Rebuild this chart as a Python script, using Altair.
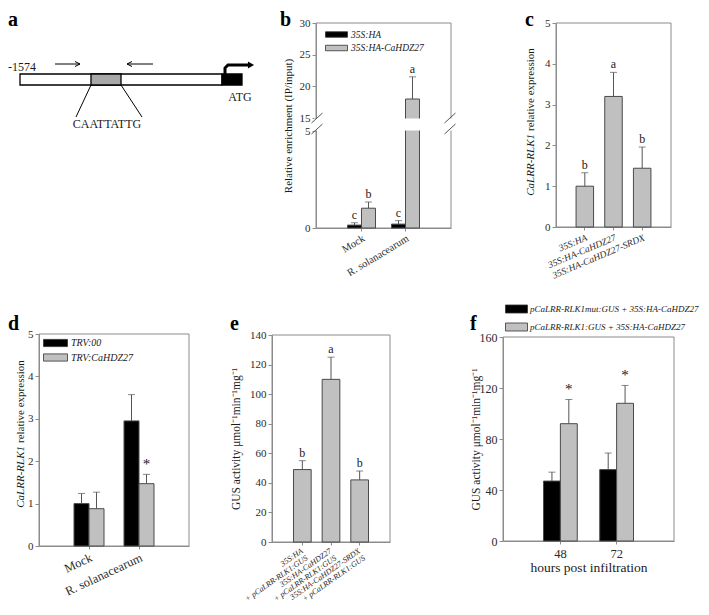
import json
import altair as alt
import pandas as pd

FONT = "Liberation Serif"
INK = "#1a1a1a"
LAB = "#2b2b2b"
AXC = "#8c8c8c"
GREY = "#c0c0c0"
EDGE = "#4a4a4a"
ERR = "#555555"
NB = "\u00a0"

W, H = 693, 598          # drawing canvas (page offset 8 px)
OFF = 8

one = pd.DataFrame({"k": [0]})

# ---------------- panel a : promoter schematic (page-pixel coordinates) ----------------
a_box_x1 = [20, 91, 222]
a_box_x2 = [222, 121, 242]
a_box_y1 = [74, 74, 74]
a_box_y2 = [85, 85, 85]
a_box_fill = ["#ffffff", "#a8a8a8", "#000000"]

a_seg_x1 = [91, 121, 55, 80, 80, 153, 127, 127]
a_seg_y1 = [85, 85, 64, 64, 64, 64, 64, 64]
a_seg_x2 = [76, 142, 80, 75, 75, 127, 132, 132]
a_seg_y2 = [117, 117, 64, 61.5, 66.5, 64, 61.5, 66.5]

a_tss_x = [225, 225, 228, 249]
a_tss_y = [74, 68, 65, 65]
a_head_x = [251]
a_head_y = [65]

a_lab_text = ["CAATTATTG", "ATG"]
a_lab_x = [107, 240]
a_lab_y = [124, 97]
a_pos_text = ["-1574"]
a_pos_x = [8]
a_pos_y = [67]

# ---------------- panel b ----------------
b_groups = ["Mock", "R. solanacearum"]
b_series = ["35S:HA", "35S:HA-CaHDZ27"]
b_mean_ha = [0.15, 0.20]
b_mean_hdz = [1.02, 18.0]
b_err_ha = [0.12, 0.18]
b_err_hdz = [0.32, 3.5]
b_sig_ha = ["c", "c"]
b_sig_hdz = ["b", "a"]
b_y_domain = [0, 5, 15, 30]
b_y_ticks = [0, 5, 15, 20, 25, 30]

# ---------------- panel c ----------------
c_labels = ["35S:HA", "35S:HA-CaHDZ27", "35S:HA-CaHDZ27-SRDX"]
c_mean = [1.0, 3.2, 1.44]
c_err = [0.33, 0.59, 0.52]
c_sig = ["b", "a", "b"]

# ---------------- panel d ----------------
d_groups = ["Mock", "R. solanacearum"]
d_series = ["TRV:00", "TRV:CaHDZ27"]
d_mean_00 = [1.0, 2.95]
d_mean_hdz = [0.88, 1.47]
d_err_00 = [0.24, 0.62]
d_err_hdz = [0.39, 0.22]
d_sig_00 = ["", ""]
d_sig_hdz = ["", "*"]

# ---------------- panel e ----------------
e_effector = ["35S:HA", "35S:HA-CaHDZ27", "35S:HA-CaHDZ27-SRDX"]
e_reporter = "+ pCaLRR-RLK1:GUS"
e_labels = [s + " " + e_reporter for s in e_effector]
e_mean = [49, 110, 42]
e_err = [6, 15, 6]
e_sig = ["b", "a", "b"]

# ---------------- panel f ----------------
f_groups = ["48", "72"]
f_series = ["pCaLRR-RLK1mut:GUS + 35S:HA-CaHDZ27", "pCaLRR-RLK1:GUS + 35S:HA-CaHDZ27"]
f_mean_mut = [47, 56]
f_mean_wt = [92, 108]
f_err_mut = [7, 13]
f_err_wt = [19, 14]
f_sig_mut = ["", ""]
f_sig_wt = ["*", "*"]

# plot boxes (page px): left, right, top, bottom
BOX = {"b": (316, 451, 23, 228), "c": (556, 671, 23, 227), "d": (39, 189, 334, 546),
       "e": (272, 390, 335, 542), "f": (503, 674, 337, 541)}


def cbox(k):
    l, r, t, b = BOX[k]
    return l - OFF, r - OFF, t - OFF, b - OFF


def make_df(groups, series, means, errs, sigs):
    rows = []
    for si, s in enumerate(series):
        for gi, g in enumerate(groups):
            rows.append(dict(group=g, series=s, value=means[si][gi],
                             top=means[si][gi] + errs[si][gi], sig=sigs[si][gi]))
    return pd.DataFrame(rows)


def frame(k):
    l, r, t, b = cbox(k)
    return alt.Chart(one).mark_rect(fillOpacity=0, stroke=AXC, strokeWidth=1).encode(
        x=alt.value(l), x2=alt.value(r), y=alt.value(t), y2=alt.value(b))


def letter(ch, x, y):
    return alt.Chart(one).mark_text(text=ch, font=FONT, fontSize=20, fontWeight="bold",
                                    align="left", baseline="alphabetic", color="#000").encode(
        x=alt.value(x), y=alt.value(y))


def yaxis(k, **kw):
    l, r, t, b = cbox(k)
    return alt.Axis(orient="left", offset=-l, **kw)


def xaxis(k, **kw):
    l, r, t, b = cbox(k)
    return alt.Axis(orient="bottom", offset=-(H - b), **kw)


def bars(df, k, groups, series, colors, pi, po, yscale, yax, xax, legend,
         sig_size=12, sig_dy=-4):
    l, r, t, b = cbox(k)
    X = alt.X("group:N", sort=groups,
              scale=alt.Scale(domain=groups, range=[l, r], paddingInner=pi, paddingOuter=po),
              axis=xax)
    extra = {}
    if len(series) > 1:
        extra["xOffset"] = alt.XOffset("series:N", sort=series,
                                       scale=alt.Scale(domain=series, paddingInner=0,
                                                       paddingOuter=0))
    Yv = alt.Y("value:Q", scale=yscale, axis=yax)
    Yt = alt.Y("top:Q", scale=yscale, axis=yax)
    fill = alt.Fill("series:N", sort=series, scale=alt.Scale(domain=series, range=colors),
                    legend=legend)
    bb = alt.Chart(df).mark_bar(stroke=EDGE, strokeWidth=1).encode(x=X, y=Yv, fill=fill, **extra)
    rr = alt.Chart(df).mark_rule(color=ERR, strokeWidth=1).encode(x=X, y=Yv, y2="top:Q", **extra)
    tt = alt.Chart(df).mark_tick(color=ERR, thickness=1, size=7).encode(x=X, y=Yt, **extra)
    ss = alt.Chart(df).mark_text(font=FONT, fontSize=sig_size, baseline="alphabetic", dy=sig_dy,
                                 color=INK).encode(x=X, y=Yt, text="sig:N", **extra)
    return [rr, tt, bb, ss]


def ytitle_split(x, ysplit, italic_part, normal_part, size=11):
    i = alt.Chart(one).mark_text(text=italic_part, font=FONT, fontSize=size, fontStyle="italic",
                                 angle=270, align="right", baseline="middle", color=INK).encode(
        x=alt.value(x), y=alt.value(ysplit))
    n = alt.Chart(one).mark_text(text=normal_part, font=FONT, fontSize=size, angle=270,
                                 align="left", baseline="middle", color=INK).encode(
        x=alt.value(x), y=alt.value(ysplit - 3))
    return [i, n]


def legend(k, dx, dy, path, size, fs, loff, rowpad):
    l, r, t, b = cbox(k)
    return alt.Legend(title=None, orient="none", legendX=l + dx, legendY=t + dy,
                      symbolType=path, symbolSize=size, symbolStrokeColor="#333",
                      symbolStrokeWidth=0.8, labelFontSize=fs, labelFontStyle="italic",
                      labelOffset=loff, rowPadding=rowpad, padding=0, symbolOpacity=1,
                      labelLimit=400, labelFont=FONT, labelColor=INK)


# ================= panel a =================
xa = alt.Scale(domain=[OFF, OFF + W], range=[0, W], nice=False, zero=False)
ya = alt.Scale(domain=[OFF, OFF + H], range=[0, H], nice=False, zero=False)
df_box = pd.DataFrame(dict(x1=a_box_x1, x2=a_box_x2, y1=a_box_y1, y2=a_box_y2, fill=a_box_fill))
df_seg = pd.DataFrame(dict(x1=a_seg_x1, x2=a_seg_x2, y1=a_seg_y1, y2=a_seg_y2))
df_tss = pd.DataFrame(dict(x=a_tss_x, y=a_tss_y, i=list(range(len(a_tss_x)))))
df_head = pd.DataFrame(dict(x=a_head_x, y=a_head_y))
df_lab = pd.DataFrame(dict(t=a_lab_text, x=a_lab_x, y=a_lab_y))
df_pos = pd.DataFrame(dict(t=a_pos_text, x=a_pos_x, y=a_pos_y))

pa = alt.layer(
    alt.Chart(df_box).mark_rect(stroke="#000", strokeWidth=1.3).encode(
        x=alt.X("x1:Q", scale=xa, axis=None), x2="x2:Q",
        y=alt.Y("y1:Q", scale=ya, axis=None), y2="y2:Q",
        fill=alt.Fill("fill:N", scale=None)),
    alt.Chart(df_seg).mark_rule(color="#000", strokeWidth=1).encode(
        x=alt.X("x1:Q", scale=xa, axis=None), x2="x2:Q",
        y=alt.Y("y1:Q", scale=ya, axis=None), y2="y2:Q"),
    alt.Chart(df_tss).mark_line(color="#000", strokeWidth=3).encode(
        x=alt.X("x:Q", scale=xa, axis=None), y=alt.Y("y:Q", scale=ya, axis=None),
        order="i:Q"),
    alt.Chart(df_head).mark_point(shape="triangle-right", filled=True, size=50, color="#000",
                                  opacity=1).encode(
        x=alt.X("x:Q", scale=xa, axis=None), y=alt.Y("y:Q", scale=ya, axis=None)),
    alt.Chart(df_lab).mark_text(font=FONT, fontSize=12, align="center", color=INK).encode(
        x=alt.X("x:Q", scale=xa, axis=None), y=alt.Y("y:Q", scale=ya, axis=None), text="t:N"),
    alt.Chart(df_pos).mark_text(font=FONT, fontSize=12, align="left", color=INK).encode(
        x=alt.X("x:Q", scale=xa, axis=None), y=alt.Y("y:Q", scale=ya, axis=None), text="t:N"),
    letter("a", 0, 18),
)

# ================= panel b =================
df_b = make_df(b_groups, b_series, [b_mean_ha, b_mean_hdz], [b_err_ha, b_err_hdz],
               [b_sig_ha, b_sig_hdz])
bl, br, bt, bbm = cbox("b")
yb = alt.Scale(domain=b_y_domain, range=[bbm, bt + 108, bt + 95, bt], nice=False, zero=False)
yaxis_b = yaxis("b", values=b_y_ticks, title="Relative enrichment (IP/input)", titleX=-28,
                titleAngle=270, titleBaseline="middle", labelOverlap=False, labelFontSize=11)
xaxis_b = xaxis("b", title=None, labelAngle=-31, labelAlign="right", labelBaseline="top",
                labelFontSize=10.5, tickSize=3)
leg_b = legend("b", 14.5, 5.5, "M-2,-0.5H2V0.5H-2Z", 121, 9.5, 8.5, 2.5)
brk = alt.Chart(one).mark_rect(fill="white").encode(
    x=alt.value(bl - 2), x2=alt.value(br + 3), y=alt.datum(5.3, scale=yb), y2=alt.datum(14.7))
slashes = [alt.Chart(one).mark_rule(color="#555", strokeWidth=1).encode(
    x=alt.value(cx - 5.5), x2=alt.value(cx + 5.5), y=alt.value(cy + 5), y2=alt.value(cy - 5))
    for cx in (bl + 1, br - 1) for cy in (bt + 95, bt + 106)]
pb = alt.layer(frame("b"),
               *bars(df_b, "b", b_groups, b_series, ["#000000", GREY], 0.364, 0.716, yb,
                     yaxis_b, xaxis_b, leg_b),
               brk, *slashes, letter("b", 272, 18))

# ================= panel c =================
cl, cr, ct, cbm = cbox("c")
df_c = make_df(c_labels, ["expr"], [c_mean], [c_err], [c_sig])
yc = alt.Scale(domain=[0, 5], range=[cbm, ct], nice=False)
yaxis_c = yaxis("c", values=[0, 1, 2, 3, 4, 5], title=None)
xaxis_c = xaxis("c", title=None, labelAngle=-23, labelAlign="right", labelBaseline="top",
                labelFontSize=9.5, labelFontStyle="italic", tickSize=3)
pc = alt.layer(frame("c"),
               *bars(df_c, "c", c_labels, ["expr"], [GREY], 0.39, 0.7, yc, yaxis_c, xaxis_c,
                     None),
               *ytitle_split(cl - 25, ct + 111, "CaLRR-RLK1", "relative expression"),
               letter("c", 517, 18))

# ================= panel d =================
dl, dr, dt, dbm = cbox("d")
df_d = make_df(d_groups, d_series, [d_mean_00, d_mean_hdz], [d_err_00, d_err_hdz],
               [d_sig_00, d_sig_hdz])
yd = alt.Scale(domain=[0, 5], range=[dbm, dt], nice=False)
yaxis_d = yaxis("d", values=[0, 1, 2, 3, 4, 5], title=None)
xaxis_d = xaxis("d", title=None, labelAngle=-25, labelAlign="right", labelBaseline="top",
                labelFontSize=12.5, tickSize=3)
leg_d = legend("d", 10, 2.5, "M-2,-0.6H2V0.6H-2Z", 144, 10, 9, 2.5)
pdd = alt.layer(frame("d"),
                *bars(df_d, "d", d_groups, d_series, ["#000000", GREY], 0.4, 0.7, yd, yaxis_d,
                      xaxis_d, leg_d, sig_size=15, sig_dy=-5),
                *ytitle_split(dl - 18, dt + 112, "CaLRR-RLK1", "relative expression"),
                letter("d", 0, 322))

# ================= panel e =================
el, er, et, ebm = cbox("e")
df_e = make_df(e_labels, ["gus"], [e_mean], [e_err], [e_sig])
ye = alt.Scale(domain=[0, 140], range=[ebm, et], nice=False)
# two-line tick labels, lines padded with no-break spaces so that each block reads left-aligned
pads = [(28, 0), (10, 0), (0, 1)]
parts = []
for lab, eff, (p1, p2) in zip(e_labels, e_effector, pads):
    l1 = json.dumps(eff + NB * p1, ensure_ascii=False)
    l2 = json.dumps(e_reporter + NB * p2, ensure_ascii=False)
    parts.append("datum.value == %s ? [%s, %s]" % (json.dumps(lab, ensure_ascii=False), l1, l2))
e_label_expr = " : ".join(parts) + " : datum.label"
yaxis_e = yaxis("e", values=list(range(0, 141, 20)), title="GUS activity μmol⁻¹min⁻¹mg⁻¹",
                titleX=-36, titleAngle=270, titleBaseline="middle", titleFontSize=11.5)
xaxis_e = xaxis("e", title=None, labelAngle=-35, labelAlign="right", labelBaseline="middle",
                labelFontSize=8, labelFontStyle="italic", tickSize=3, labelPadding=5,
                labelExpr=e_label_expr, labelLineHeight=8.5)
pe = alt.layer(frame("e"),
               *bars(df_e, "e", e_labels, ["gus"], [GREY], 0.383, 0.75, ye, yaxis_e, xaxis_e,
                     None),
               letter("e", 222, 322))

# ================= panel f =================
fl, fr, ft, fbm = cbox("f")
df_f = make_df(f_groups, f_series, [f_mean_mut, f_mean_wt], [f_err_mut, f_err_wt],
               [f_sig_mut, f_sig_wt])
yf = alt.Scale(domain=[0, 160], range=[fbm, ft], nice=False)
yaxis_f = yaxis("f", values=[0, 40, 80, 120, 160], title="GUS activity μmol⁻¹min⁻¹mg⁻¹",
                titleX=-27, titleAngle=270, titleBaseline="middle", titleFontSize=11.5,
                labelFontSize=12)
xaxis_f = xaxis("f", title="hours post infiltration", labelAngle=0, labelFontSize=12.5,
                titleFontSize=13.5, tickSize=3, labelPadding=3, titlePadding=1)
leg_f = legend("f", 7.5, -34, "M-2,-0.73H2V0.73H-2Z", 121, 9, 7.5, 6)
pf = alt.layer(frame("f"),
               *bars(df_f, "f", f_groups, f_series, ["#000000", GREY], 0.4, 0.72, yf, yaxis_f,
                     xaxis_f, leg_f, sig_size=15, sig_dy=-5),
               letter("f", 462, 322))

chart = alt.layer(pa, pb, pc, pdd, pe, pf).resolve_scale(
    x="independent", y="independent", fill="independent", xOffset="independent"
).resolve_axis(x="independent", y="independent").resolve_legend(
    fill="independent"
).properties(
    width=W, height=H, padding=0, autosize=alt.AutoSizeParams(type="none")
).configure_view(stroke=None).configure_axis(
    labelFont=FONT, titleFont=FONT, labelColor=LAB, titleColor=INK, domainColor=AXC,
    tickColor=AXC, labelFontSize=11, titleFontSize=11, titleFontWeight="normal", tickSize=4,
    labelPadding=2, grid=False, domainWidth=1, tickWidth=1
).configure_text(font=FONT)

chart.save("out.html", embed_options={"renderer": "svg", "actions": False})
